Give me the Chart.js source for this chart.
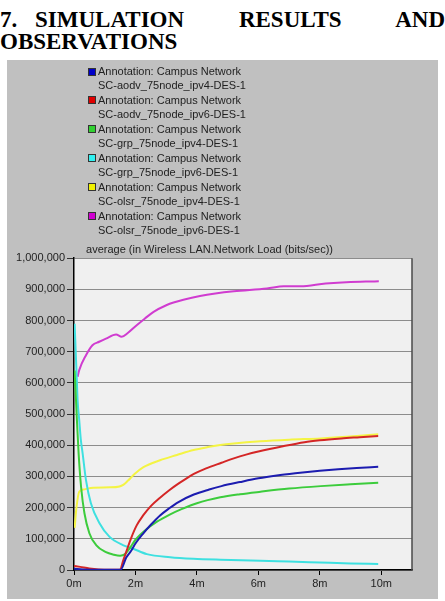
<!DOCTYPE html>
<html>
<head>
<meta charset="utf-8">
<script src="https://cdn.jsdelivr.net/npm/chart.js@4.4.1/dist/chart.umd.min.js"></script>
<style>
  html, body { margin: 0; padding: 0; background: #fff; }
  body { width: 445px; height: 601px; position: relative; overflow: hidden; }
  #heading {
    position: absolute; left: 0; top: 9px; width: 445px;
    font: bold 23px "Liberation Serif", "Times New Roman", serif;
    line-height: 22px; text-align: justify; text-indent: 35px; color: #000;
  }
  #heading .num { position: absolute; left: 0; top: 0; text-indent: 0; }
  #panel { position: absolute; left: 7px; top: 60px; width: 431px; height: 539px; background: #c0c0c0; }
  #chart { position: absolute; left: 0; top: 0; }
  #legend {
    position: absolute; left: 81px; top: 4px;
    font: 11px "Liberation Sans", Arial, sans-serif; color: #222; line-height: 14.45px;
  }
  .item { position: relative; padding-left: 10px; }
  .swatch { position: absolute; left: 0; top: 3.5px; width: 6px; height: 6px; border: 1px solid #333; }
</style>
</head>
<body>
<div id="heading"><span class="num">7.</span>SIMULATION RESULTS AND OBSERVATIONS</div>
<div id="panel">
  <canvas id="chart" width="431" height="539"></canvas>
  <div id="legend"></div>
</div>
<script>
// series names as shown in the legend
const seriesNames = [
  ['Annotation: Campus Network', 'SC-aodv_75node_ipv4-DES-1'],
  ['Annotation: Campus Network', 'SC-aodv_75node_ipv6-DES-1'],
  ['Annotation: Campus Network', 'SC-grp_75node_ipv4-DES-1'],
  ['Annotation: Campus Network', 'SC-grp_75node_ipv6-DES-1'],
  ['Annotation: Campus Network', 'SC-olsr_75node_ipv4-DES-1'],
  ['Annotation: Campus Network', 'SC-olsr_75node_ipv6-DES-1']
];

const chartTitle = 'average (in Wireless LAN.Network Load (bits/sec))';

// time (minutes) and network load (bits/sec)
const aodvV4Time = [0, 0.3, 0.8, 1.2, 1.52, 1.7, 1.85, 2.0, 2.25, 2.5, 2.8, 3.1, 3.4, 3.9, 4.4, 4.8, 5.4, 6.0, 6.6, 7.2, 8.0, 8.6, 9.2, 9.9];
const aodvV4Load = [4000, 2000, 1000, 1000, 1000, 40000, 60000, 85000, 117000, 145000, 175000, 198000, 218000, 242000, 258000, 269000, 282000, 294000, 303000, 310000, 318000, 323000, 327000, 331000];

const aodvV6Time = [0, 0.2, 0.5, 0.8, 1.2, 1.5, 1.6, 1.72, 1.85, 2.04, 2.25, 2.5, 2.8, 3.1, 3.35, 3.6, 3.9, 4.3, 4.8, 5.2, 5.6, 6.0, 6.8, 7.5, 8.0, 8.7, 9.3, 9.9];
const aodvV6Load = [13000, 10000, 5000, 2000, 1000, 1000, 30000, 64000, 100000, 143000, 175000, 205000, 232000, 256000, 274000, 290000, 308000, 326000, 344000, 358000, 370000, 380000, 397000, 410000, 416000, 422000, 426000, 430000];

const grpV4Time = [0.02, 0.1, 0.15, 0.23, 0.34, 0.5, 0.72, 1.04, 1.3, 1.5, 1.65, 1.8, 2.0, 2.3, 2.7, 3.1, 3.5, 4.0, 4.76, 5.4, 6.07, 7.0, 8.03, 9.0, 9.9];
const grpV4Load = [640000, 470000, 374000, 267000, 182000, 118000, 80000, 57000, 49000, 46000, 50000, 68000, 97000, 126000, 155000, 177000, 195000, 214000, 233000, 243000, 251000, 261000, 269000, 275000, 280000];

const grpV6Time = [0.02, 0.08, 0.12, 0.17, 0.22, 0.28, 0.39, 0.55, 0.83, 1.15, 1.59, 1.91, 2.37, 3.13, 3.88, 4.76, 6.07, 7.0, 8.0, 9.0, 9.9];
const grpV6Load = [790000, 640000, 540000, 481000, 420000, 375000, 288000, 214000, 150000, 107000, 80000, 69000, 51000, 41000, 36000, 33000, 30000, 27000, 24000, 21000, 19000];

const olsrV4Time = [0.02, 0.08, 0.17, 0.3, 0.63, 1.17, 1.48, 1.6, 1.75, 1.97, 2.26, 2.8, 3.35, 3.89, 4.4, 4.76, 5.2, 6.07, 7.0, 8.03, 9.0, 9.9];
const olsrV4Load = [135000, 200000, 251000, 258000, 264000, 265000, 268000, 273000, 286000, 308000, 330000, 352000, 369000, 385000, 395000, 401000, 406000, 413000, 418000, 422000, 428000, 435000];

const olsrV6Time = [0.12, 0.17, 0.39, 0.6, 0.82, 1.04, 1.37, 1.55, 1.75, 2.04, 2.3, 2.59, 3.02, 3.24, 3.56, 4.1, 4.6, 5.2, 6.28, 6.83, 7.37, 8.19, 9.0, 9.5, 9.92];
const olsrV6Load = [620000, 641000, 689000, 721000, 732000, 742000, 755000, 748000, 760000, 785000, 806000, 828000, 850000, 858000, 867000, 879000, 887000, 894000, 903000, 910000, 910000, 919000, 924000, 925000, 926000];

const yTicks = [0, 100000, 200000, 300000, 400000, 500000, 600000, 700000, 800000, 900000, 1000000];
const xTicks = [0, 2, 4, 6, 8, 10];

const lineColors = ['#1c1cb0', '#d42626', '#3ccc3c', '#3ee0e0', '#f4f444', '#d03cd0'];
const swatchColors = ['#0000c8', '#e00000', '#30d030', '#30f0f0', '#f0f000', '#d000d0'];

const times = [aodvV4Time, aodvV6Time, grpV4Time, grpV6Time, olsrV4Time, olsrV6Time];
const loads = [aodvV4Load, aodvV6Load, grpV4Load, grpV6Load, olsrV4Load, olsrV6Load];

// legend
const legend = document.getElementById('legend');
seriesNames.forEach((lines, i) => {
  const item = document.createElement('div');
  item.className = 'item';
  item.innerHTML = '<span class="swatch" style="background:' + swatchColors[i] + '"></span>' +
    lines.map(l => '<div>' + l + '</div>').join('');
  legend.appendChild(item);
});

// plot area background and right frame line
const plotFrame = {
  id: 'plotFrame',
  beforeDraw(chart) {
    const { ctx, chartArea: a } = chart;
    ctx.save();
    ctx.fillStyle = '#f0f0f0';
    ctx.fillRect(a.left, a.top, a.right - a.left, a.bottom - a.top);
    ctx.restore();
  },
  afterDraw(chart) {
    const { ctx, chartArea: a } = chart;
    ctx.save();
    ctx.strokeStyle = '#4a4a4a';
    ctx.lineWidth = 1.5;
    ctx.beginPath();
    ctx.moveTo(a.right, a.top);
    ctx.lineTo(a.right, a.bottom);
    ctx.stroke();
    ctx.restore();
  }
};

const fontFamily = '"Liberation Sans", Arial, sans-serif';

new Chart(document.getElementById('chart').getContext('2d'), {
  type: 'line',
  data: {
    datasets: seriesNames.map((n, i) => ({
      label: n.join(' '),
      data: times[i].map((t, j) => ({ x: t, y: loads[i][j] })),
      borderColor: lineColors[i],
      borderWidth: 2,
      pointRadius: 0,
      cubicInterpolationMode: 'monotone',
      fill: false
    }))
  },
  options: {
    responsive: false,
    animation: false,
    devicePixelRatio: 1,
    layout: { padding: { left: 0, right: 26, top: 181, bottom: 0 } },
    plugins: {
      legend: { display: false },
      tooltip: { enabled: false },
      title: {
        display: true,
        text: chartTitle,
        color: '#222',
        font: { family: fontFamily, size: 11, weight: 'normal' },
        padding: { top: 2, bottom: 2 }
      }
    },
    scales: {
      x: {
        type: 'linear',
        min: 0,
        max: 11,
        afterFit: (s) => { s.height = 29; },
        afterBuildTicks: (s) => { s.ticks = xTicks.map(v => ({ value: v })); },
        grid: { drawOnChartArea: false, drawTicks: true, tickLength: 5, color: '#000' },
        border: { color: '#000', width: 1.5 },
        ticks: {
          color: '#222',
          padding: 2,
          maxRotation: 0,
          font: { family: fontFamily, size: 11 },
          callback: (v) => v + 'm'
        }
      },
      y: {
        min: 0,
        max: 1000000,
        afterFit: (s) => { s.width = 67; },
        afterBuildTicks: (s) => { s.ticks = yTicks.map(v => ({ value: v })); },
        grid: { color: '#8c8c8c', tickColor: '#333', tickLength: 7, lineWidth: 1 },
        border: { color: '#000', width: 1.5 },
        ticks: {
          color: '#222',
          padding: 2,
          font: { family: fontFamily, size: 11 },
          callback: (v) => v.toLocaleString('en-US')
        }
      }
    }
  },
  plugins: [plotFrame]
});
</script>
</body>
</html>
